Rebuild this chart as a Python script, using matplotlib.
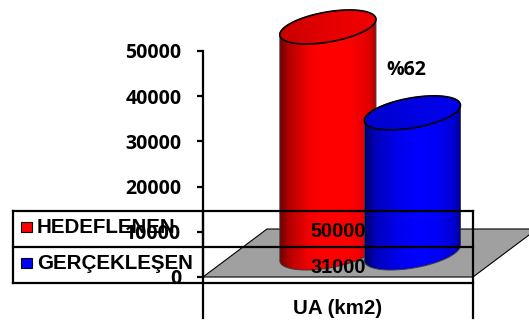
import numpy as np
import matplotlib
matplotlib.use("Agg")
import matplotlib.pyplot as plt
from matplotlib.patches import Polygon, Rectangle
from matplotlib.colors import to_rgb

# ---- data ----
series = ["HEDEFLENEN", "GERÇEKLEŞEN"]
values = [50000, 31000]
category = "UA (km2)"
yticks = [0, 10000, 20000, 30000, 40000, 50000]
colors = ["#ff0000", "#0000ff"]

# ---- figure / axes ----
W, H = 529, 322
fig = plt.figure(figsize=(W / 100, H / 100), dpi=100)

# pixel-unit layer for the 3-D decoration (floor, cylinders, data table)
bg = fig.add_axes([0, 0, 1, 1], zorder=0)
bg.set_xlim(0, W)
bg.set_ylim(0, H)
bg.axis("off")

ax = fig.add_axes([203 / W, 45 / H, 270 / W, 226 / H], zorder=1)
ax.patch.set_visible(False)
ax.set_xlim(0, 1)
ax.set_ylim(0, 50000)
for s in ["top", "right", "bottom"]:
    ax.spines[s].set_visible(False)
ax.spines["left"].set_linewidth(1.6)
ax.set_xticks([])
ax.set_yticks(yticks)
ax.set_yticklabels([str(v) for v in yticks], fontfamily="Open Sans",
                   fontweight="bold", fontsize=14)
ax.tick_params(axis="y", length=4.5, width=1.6, pad=11)

fig.canvas.draw()
to_px = ax.transData.transform

# ---- floor ----
DX, DY = 64, 48
x0, y0 = to_px((0, 0))
x1, _ = to_px((1, 0))
floor = Polygon([(x0, y0), (x1, y0), (x1 + DX, y0 + DY), (x0 + DX, y0 + DY)],
                closed=True, fc="#a0a0a0", ec="black", lw=0.8, zorder=1)
bg.add_patch(floor)


# ---- cylinders ----
def ellipse_pts(cx, cy, a, b, th, n=240):
    t = np.linspace(0, 2 * np.pi, n, endpoint=False)
    x = cx + a * np.cos(t) * np.cos(th) - b * np.sin(t) * np.sin(th)
    y = cy + a * np.cos(t) * np.sin(th) + b * np.sin(t) * np.cos(th)
    return np.column_stack([x, y])


def hull(pts):
    pts = sorted(map(tuple, pts))

    def cross(o, a, b):
        return (a[0] - o[0]) * (b[1] - o[1]) - (a[1] - o[1]) * (b[0] - o[0])

    lower, upper = [], []
    for p in pts:
        while len(lower) >= 2 and cross(lower[-2], lower[-1], p) <= 0:
            lower.pop()
        lower.append(p)
    for p in reversed(pts):
        while len(upper) >= 2 and cross(upper[-2], upper[-1], p) <= 0:
            upper.pop()
        upper.append(p)
    return np.array(lower[:-1] + upper[:-1])


def gradient(base, stops, n=256):
    pos = [s[0] for s in stops]
    fac = [s[1] for s in stops]
    u = np.linspace(0, 1, n)
    f = np.interp(u, pos, fac)
    rgb = np.array(to_rgb(base))
    return (f[:, None] * rgb[None, :])[None, :, :].clip(0, 1)


side_stops = [
    [(0, 0.45), (0.1, 0.72), (0.3, 0.95), (0.42, 1.0), (0.72, 1.0), (0.92, 0.88), (1, 0.66)],
    [(0, 0.38), (0.12, 0.74), (0.35, 0.92), (0.55, 1.0), (0.75, 0.97), (0.93, 0.82), (1, 0.55)],
]
top_stops = [
    [(0, 0.78), (0.5, 0.9), (1, 0.95)],
    [(0, 0.8), (0.5, 0.88), (1, 0.95)],
]

centers = [0.344, 0.657]
half_w = 0.178
tilt = np.deg2rad(10)
b_rad = 15
OFX, OFY = DX / 2, DY / 2

cyl_tops = []
for i, (xc, v, col) in enumerate(zip(centers, values, colors)):
    cx, cy0 = to_px((xc, 0))
    _, cy1 = to_px((xc, v))
    cx += OFX
    cy0 += OFY
    cy1 += OFY
    w = to_px((xc + half_w, 0))[0] - to_px((xc, 0))[0]
    a = np.sqrt((w ** 2 - (b_rad * np.sin(tilt)) ** 2) / np.cos(tilt) ** 2)
    bot = ellipse_pts(cx, cy0, a, b_rad, tilt)
    top = ellipse_pts(cx, cy1, a, b_rad, tilt)
    body = hull(np.vstack([bot, top]))
    z = 2 + 3 * i

    body_patch = Polygon(body, closed=True, fc="none", ec="#3a3a3a", lw=0.7, zorder=z + 0.5)
    bg.add_patch(body_patch)
    im = bg.imshow(gradient(col, side_stops[i]),
                   extent=[cx - w, cx + w, cy0 - b_rad - 20, cy1 + b_rad + 20],
                   aspect="auto", interpolation="bilinear", zorder=z)
    im.set_clip_path(body_patch)

    top_patch = Polygon(top, closed=True, fc="none", ec="black", lw=1.2, zorder=z + 1.5)
    bg.add_patch(top_patch)
    im2 = bg.imshow(gradient(col, top_stops[i]),
                    extent=[cx - w, cx + w, cy1 - b_rad - 2, cy1 + b_rad + 2],
                    aspect="auto", interpolation="bilinear", zorder=z + 1)
    im2.set_clip_path(top_patch)
    cyl_tops.append((cx, cy1))

# percentage of target achieved
pct = f"%{round(100 * values[1] / values[0])}"
bg.text(cyl_tops[1][0] - 6, cyl_tops[1][1] + 38, pct, ha="center", va="baseline",
        fontfamily="Open Sans", fontweight="bold", fontsize=14, zorder=20)

# ---- data table ----
tab_left = 13
row_h = 36
tab_top = H - 211
tab_lines = dict(color="black", lw=1.6, zorder=15, solid_capstyle="projecting")
for k in range(3):
    yy = tab_top - k * row_h
    bg.plot([tab_left, x1], [yy, yy], **tab_lines)
bg.plot([tab_left, tab_left], [tab_top, tab_top - 2 * row_h], **tab_lines)
bg.plot([x0, x0], [tab_top, 4], **tab_lines)
bg.plot([x1, x1], [tab_top, 4], **tab_lines)

tab_font = dict(fontfamily="Liberation Sans", fontweight="bold", zorder=20)
xmid = (x0 + x1) / 2
for k, (name, v, col) in enumerate(zip(series, values, colors)):
    row_base = tab_top - k * row_h
    bg.add_patch(Rectangle((21, row_base - 21), 11, 10, fc=col, ec="black",
                           lw=0.8, zorder=16))
    bg.text(37, row_base - 22, name, ha="left", va="baseline", fontsize=14.8, **tab_font)
    bg.text(xmid, row_base - 26, str(v), ha="center", va="baseline", fontsize=14.3, **tab_font)
bg.text(xmid, 8, category, ha="center", va="baseline", fontsize=14.8, **tab_font)

bg.set_xlim(0, W)
bg.set_ylim(0, H)

fig.savefig("out.png", dpi=100)
